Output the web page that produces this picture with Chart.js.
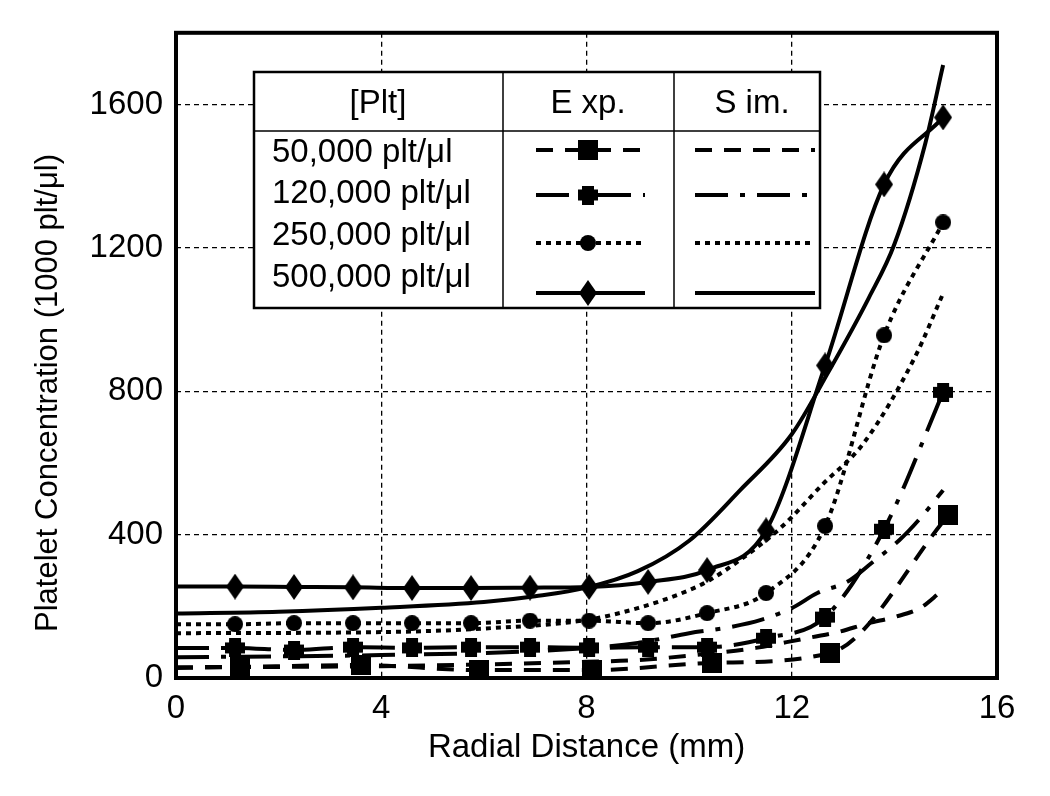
<!DOCTYPE html>
<html>
<head>
<meta charset="utf-8">
<script src="https://cdn.jsdelivr.net/npm/chart.js@4.4.1/dist/chart.umd.min.js"></script>
<style>
  html, body { margin: 0; padding: 0; background: #fff; }
</style>
</head>
<body>
<canvas id="myChart" width="1050" height="796"></canvas>
<script>
// axis ticks
const xTicks = [0, 4, 8, 12, 16];
const yTicks = [0, 400, 800, 1200, 1600];

// experiment (markers)
const expX   = [0, 1.15, 2.3, 3.45, 4.6, 5.75, 6.9, 8.05, 9.2, 10.35, 11.5, 12.65, 13.8, 14.95];
const exp500 = [255, 255, 254, 253, 251, 251, 252, 254, 268, 301, 412, 872, 1377, 1564];
const exp250 = [150, 150, 153, 153, 153, 153, 160, 160, 153, 181, 237, 424, 956, 1271];
const exp120 = [84, 84, 78, 86, 84, 86, 86, 84, 86, 86, 111, 170, 415, 797];
const exp50X = [0, 1.25, 3.6, 5.9, 8.1, 10.45, 12.75, 15.05];
const exp50  = [28, 31, 36, 22, 22, 42, 70, 454];

// simulation (plain curves)
const sim500X = [0, 2, 4, 6, 7, 8, 9, 10, 11, 12, 12.7, 13.5, 14, 14.6, 14.95];
const sim500  = [180, 185, 196, 212, 228, 252, 298, 383, 525, 680, 850, 1060, 1210, 1490, 1710];
const sim250X = [0, 4, 6, 8, 9, 10, 10.4, 11, 11.8, 12.6, 13.4, 14.4, 14.95];
const sim250  = [125, 128, 138, 162, 195, 245, 273, 330, 421, 540, 655, 895, 1073];
const sim120X = [0, 4, 7.4, 9, 10, 10.8, 11.4, 12, 12.5, 13.1, 13.55, 14.1, 14.5, 14.95];
const sim120  = [58, 64, 78, 98, 125, 142, 162, 195, 237, 270, 320, 385, 445, 524];
const sim50X  = [0, 4, 8, 9, 10.5, 11.3, 11.9, 12.4, 12.9, 13.5, 14, 14.5, 14.9];
const sim50   = [30, 33, 45, 50, 70, 84, 100, 114, 128, 153, 170, 195, 240];

const rowLabels = ['50,000 plt/\u03bcl', '120,000 plt/\u03bcl', '250,000 plt/\u03bcl', '500,000 plt/\u03bcl'];
const headLabels = ['[Plt]', 'E xp.', 'S im.'];
const yTitle = 'Platelet Concentration (1000 plt/\u03bcl)';

function pts(xs, ys) {
  return xs.map((x, i) => ({ x: x, y: ys[i] }));
}

// marker images
function makeMarker(w, h, draw) {
  const c = document.createElement('canvas');
  c.width = w;
  c.height = h;
  const g = c.getContext('2d');
  g.fillStyle = '#000';
  draw(g, w, h);
  return c;
}
const squareMk = makeMarker(20, 20, (g, w, h) => g.fillRect(0, 0, w, h));
const plusMk = makeMarker(20, 19, (g, w, h) => {
  g.fillRect(0, 4, 20, 11);
  g.fillRect(4, 0, 12, 19);
});
const circleMk = makeMarker(16, 16, (g, w, h) => {
  g.beginPath();
  g.arc(8, 8, 8, 0, Math.PI * 2);
  g.fill();
});
const diamondMk = makeMarker(18, 26, (g, w, h) => {
  g.beginPath();
  g.moveTo(w / 2, 0);
  g.lineTo(w, h / 2);
  g.lineTo(w / 2, h);
  g.lineTo(0, h / 2);
  g.closePath();
  g.fill();
});

const dash50 = [17, 12];
const dash120 = [33, 12, 5, 12];
const dash250 = [5, 5];

function expSet(label, xs, ys, dash, mk) {
  return {
    label: label,
    data: pts(xs, ys),
    borderColor: '#000',
    backgroundColor: '#000',
    borderWidth: 4,
    borderDash: dash,
    pointStyle: mk,
    pointRadius: xs.map(x => x === 0 ? 0 : 8),
    cubicInterpolationMode: 'monotone'
  };
}
function simSet(label, xs, ys, dash) {
  return {
    label: label,
    data: pts(xs, ys),
    borderColor: '#000',
    borderWidth: 4,
    borderDash: dash,
    pointRadius: 0,
    cubicInterpolationMode: 'monotone'
  };
}

const datasets = [
  expSet('Exp 50,000', exp50X, exp50, dash50, squareMk),
  expSet('Exp 120,000', expX, exp120, dash120, plusMk),
  expSet('Exp 250,000', expX, exp250, dash250, circleMk),
  expSet('Exp 500,000', expX, exp500, [], diamondMk),
  simSet('Sim 50,000', sim50X, sim50, dash50),
  simSet('Sim 120,000', sim120X, sim120, dash120),
  simSet('Sim 250,000', sim250X, sim250, dash250),
  simSet('Sim 500,000', sim500X, sim500, [])
];

const FONT = 'Liberation Sans, Arial, sans-serif';

// frame, y title + legend table
const tablePlugin = {
  id: 'table',
  afterDraw(chart) {
    const c = chart.ctx;
    const a = chart.chartArea;
    c.save();
    c.strokeStyle = '#000';
    c.setLineDash([]);
    c.lineWidth = 4;
    c.strokeRect(a.left, a.top, a.right - a.left, a.bottom - a.top);

    // y title
    c.save();
    c.fillStyle = '#000';
    c.font = '31px ' + FONT;
    c.translate(48, 393);
    c.rotate(-Math.PI / 2);
    c.textAlign = 'center';
    c.textBaseline = 'middle';
    c.fillText(yTitle, 0, 0);
    c.restore();

    const L = 254, T = 72, R = 820, B = 308;
    c.fillStyle = '#fff';
    c.fillRect(L, T, R - L, B - T);
    c.lineWidth = 2.5;
    c.strokeRect(L, T, R - L, B - T);
    c.lineWidth = 1.5;
    c.beginPath();
    c.moveTo(L, 131); c.lineTo(R, 131);
    c.moveTo(503, T); c.lineTo(503, B);
    c.moveTo(674, T); c.lineTo(674, B);
    c.stroke();

    c.fillStyle = '#000';
    c.font = '33px ' + FONT;
    c.textBaseline = 'middle';
    c.textAlign = 'center';
    c.fillText(headLabels[0], 378, 104);
    c.fillText(headLabels[1], 588, 104);
    c.fillText(headLabels[2], 752, 104);
    c.textAlign = 'left';
    const textY = [153, 194, 236, 278];
    const sampleY = [150, 195, 243, 293];
    rowLabels.forEach((t, i) => c.fillText(t, 272, textY[i]));

    rowLabels.forEach((t, i) => {
      const ex = chart.data.datasets[i];
      const sm = chart.data.datasets[i + 4];
      const y = sampleY[i];
      c.lineWidth = 4;
      c.setLineDash(ex.borderDash);
      c.beginPath();
      c.moveTo(536, y); c.lineTo(645, y);
      c.stroke();
      const mk = ex.pointStyle;
      c.drawImage(mk, 588 - mk.width / 2, y - mk.height / 2);
      c.setLineDash(sm.borderDash);
      c.beginPath();
      c.moveTo(695, y); c.lineTo(815, y);
      c.stroke();
    });
    c.restore();
  }
};

const gridColor = (max) => (ctx) => (ctx.tick && ctx.tick.value > 0 && ctx.tick.value < max) ? '#000' : 'rgba(0,0,0,0)';

var ctx = document.getElementById('myChart').getContext('2d');
var myChart = new Chart(ctx, {
  type: 'line',
  data: { datasets: datasets },
  plugins: [tablePlugin],
  options: {
    responsive: false,
    animation: false,
    devicePixelRatio: 1,
    layout: { padding: { top: 31, right: 53, left: 0, bottom: 0 } },
    plugins: {
      legend: { display: false },
      tooltip: { enabled: false }
    },
    scales: {
      x: {
        type: 'linear',
        min: 0,
        max: 16,
        afterFit: (s) => { s.height = 118; },
        afterBuildTicks: (s) => { s.ticks = xTicks.map(v => ({ value: v })); },
        grid: { color: gridColor(16), lineWidth: 1.3, drawTicks: false },
        border: { display: false, dash: [5, 4] },
        ticks: {
          padding: 11,
          color: '#000',
          font: { family: FONT, size: 33 },
          callback: (v) => String(v)
        },
        title: {
          display: true,
          text: 'Radial Distance (mm)',
          color: '#000',
          font: { family: FONT, size: 33 },
          padding: { top: 0, bottom: 28 }
        }
      },
      y: {
        type: 'linear',
        min: 0,
        max: 1800,
        afterFit: (s) => { s.width = 176; },
        afterBuildTicks: (s) => { s.ticks = yTicks.map(v => ({ value: v })); },
        grid: { color: gridColor(1800), lineWidth: 1.3, drawTicks: false },
        border: { display: false, dash: [5, 4] },
        ticks: {
          padding: 13,
          color: '#000',
          font: { family: FONT, size: 33 },
          callback: (v) => String(v)
        },
        title: { display: false }
      }
    }
  }
});
</script>
</body>
</html>
